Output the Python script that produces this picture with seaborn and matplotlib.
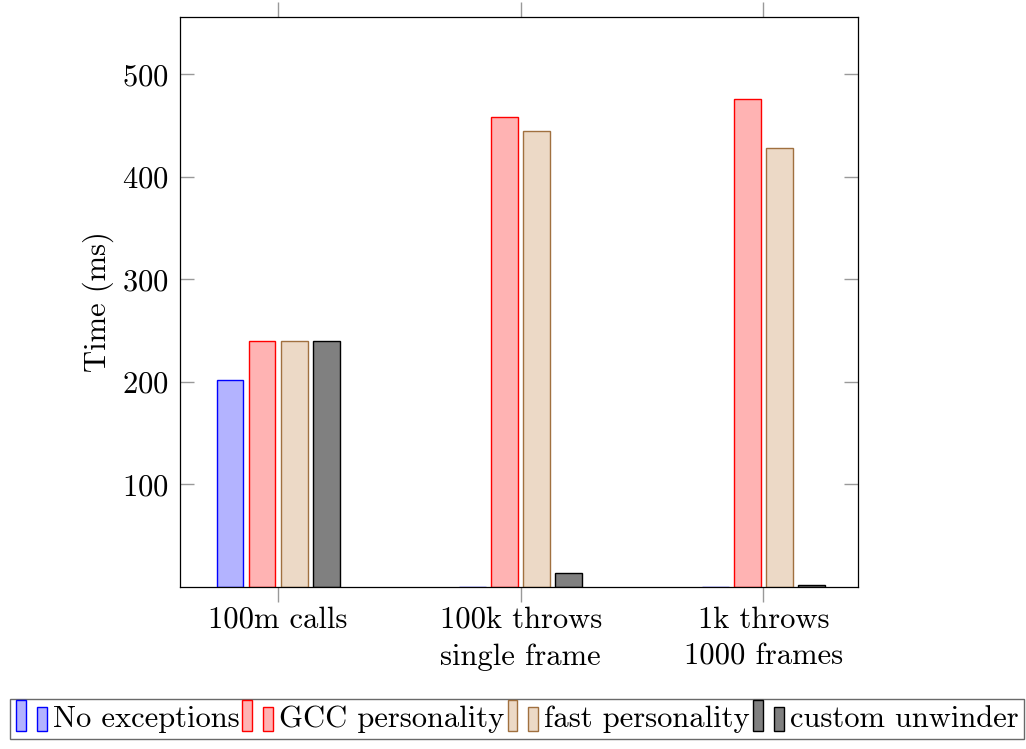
import matplotlib
matplotlib.use("Agg")
import matplotlib.pyplot as plt
import seaborn as sns
import pandas as pd
from matplotlib.patches import Rectangle
from matplotlib.legend_handler import HandlerBase

categories = ["100m calls", "100k throws\nsingle frame", "1k throws\n1000 frames"]
series = ["No exceptions", "GCC personality", "fast personality", "custom unwinder"]
no_exc = [202, 0.3, 0.3]
gcc = [240, 458, 476]
fast = [240, 445, 428]
custom = [240, 14, 2]
yticks = [100, 200, 300, 400, 500]

fills = ["#b3b3ff", "#ffb3b3", "#ecd9c6", "#808080"]
edges = ["#0000ff", "#ff0000", "#a0703f", "#000000"]

sns.set_theme(style="white")
plt.rcParams["font.family"] = ["serif"]
plt.rcParams["font.serif"] = ["cmr10"]
plt.rcParams["mathtext.fontset"] = "cm"
plt.rcParams["axes.formatter.use_mathtext"] = True
plt.rcParams["text.color"] = "black"
plt.rcParams["axes.labelcolor"] = "black"
plt.rcParams["xtick.labelcolor"] = "black"
plt.rcParams["ytick.labelcolor"] = "black"

FS = 22

rows = []
for s, vals in zip(series, [no_exc, gcc, fast, custom]):
    for c, v in zip(categories, vals):
        rows.append({"cat": c, "series": s, "val": v})
df = pd.DataFrame(rows)

fig = plt.figure(figsize=(10.26, 7.49), dpi=100)
ax = fig.add_axes([180/1026, 1-587/749, 678/1026, 570/749])

sns.barplot(data=df, x="cat", y="val", hue="series", order=categories,
            hue_order=series, palette=fills, width=0.528, gap=0.16,
            ax=ax, legend=False, linewidth=1.0, saturation=1)
for cont, ec in zip(ax.containers, edges):
    for p in cont:
        p.set_edgecolor(ec)
        p.set_linewidth(1.0)

ax.set_xlim(-0.404, 2.39)
ax.set_ylim(0, 556)
ax.set_yticks(yticks)
ax.set_xlabel("")
ax.set_ylabel("Time (ms)", fontsize=FS, color="black", labelpad=6)
for sp in ax.spines.values():
    sp.set_visible(True)
    sp.set_color("black")
    sp.set_linewidth(0.9)
ax.tick_params(axis="y", direction="in", left=True, right=True, length=10,
               color="#999999", width=1.0, labelsize=FS, pad=8, labelcolor="black")
ax.tick_params(axis="x", direction="out", bottom=True, top=True, length=11,
               color="#999999", width=1.0, labelsize=FS, pad=3, labelcolor="black")
for lab in ax.get_xticklabels():
    lab.set_linespacing(1.45)


class TwoBars(HandlerBase):
    def __init__(self, fc, ec):
        super().__init__()
        self.fc, self.ec = fc, ec

    def create_artists(self, legend, orig_handle, xdescent, ydescent,
                       width, height, fontsize, trans):
        w = 7
        r1 = Rectangle((-xdescent + 0, -ydescent - 3), w, height + 7,
                       facecolor=self.fc, edgecolor=self.ec, lw=1, transform=trans)
        r2 = Rectangle((-xdescent + 15, -ydescent - 3), w, height + 2,
                       facecolor=self.fc, edgecolor=self.ec, lw=1, transform=trans)
        return [r1, r2]


handles = [Rectangle((0, 0), 1, 1, label=s) for s in series]
hmap = {h: TwoBars(f, e) for h, f, e in zip(handles, fills, edges)}
leg = fig.legend(handles=handles, labels=series, handler_map=hmap,
                 loc="upper left", bbox_to_anchor=(10/1026, 1-699/749),
                 ncol=4, fontsize=FS, frameon=True, fancybox=False,
                 handlelength=1.1, handletextpad=0.1, columnspacing=0.1,
                 borderpad=0.2, borderaxespad=0)
leg.get_frame().set_edgecolor("#444444")
leg.get_frame().set_linewidth(1.0)
for t in leg.get_texts():
    t.set_color("black")

fig.savefig("out.png", dpi=100)
